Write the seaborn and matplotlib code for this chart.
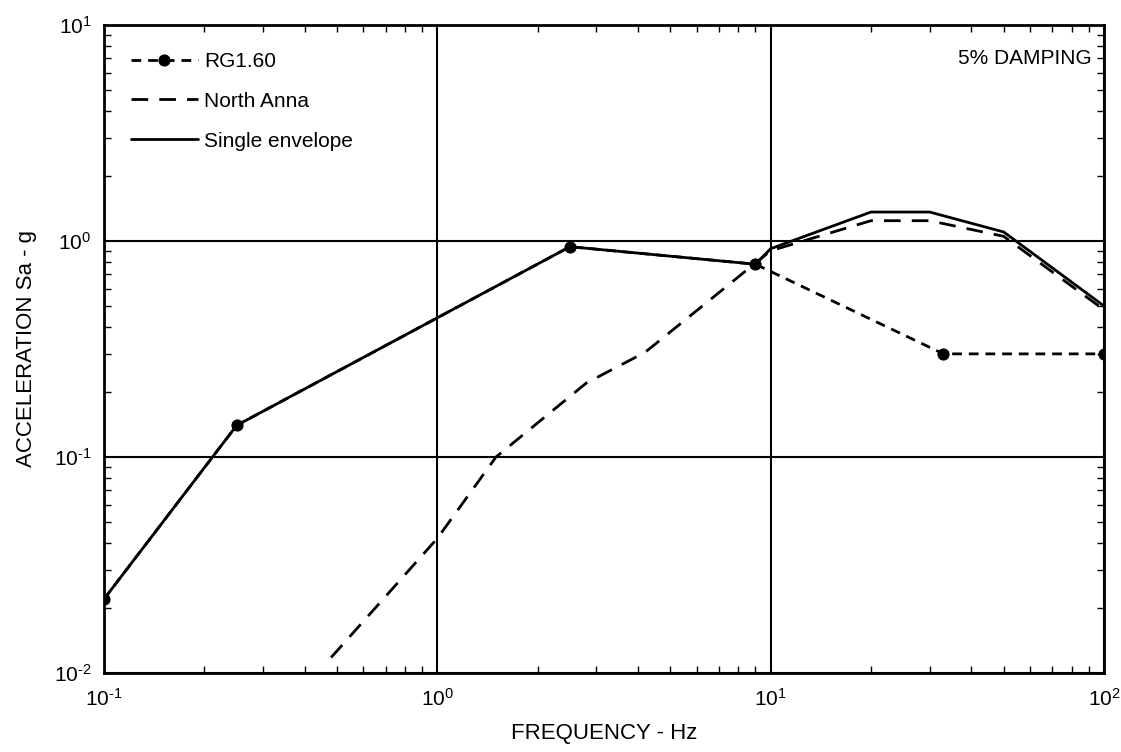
import matplotlib
matplotlib.use("Agg")
import matplotlib.pyplot as plt
import seaborn as sns
import numpy as np
from matplotlib.ticker import LogLocator, NullFormatter, FuncFormatter

# ==========================================
# 1. DATA
# ==========================================
rg_freq = [0.1, 0.25, 2.5, 9.0, 33.0, 100.0]
rg_acc = [0.022, 0.14, 0.94, 0.78, 0.30, 0.30]

na_freq = [0.48, 1.0, 1.5, 2.8, 4.2, 10.0, 20.0, 30.0, 50.0, 100.0]
na_acc = [0.0118, 0.042, 0.10, 0.22, 0.305, 0.90, 1.24, 1.24, 1.05, 0.48]

env_freq = [0.1, 0.25, 2.5, 9.0, 10.0, 20.0, 30.0, 50.0, 100.0]
env_acc = [0.022, 0.14, 0.94, 0.78, 0.92, 1.36, 1.36, 1.10, 0.50]

# ==========================================
# 2. STYLE
# ==========================================
sns.set_theme(style="ticks")
plt.rcParams['font.family'] = ['Liberation Sans', 'DejaVu Sans']
plt.rcParams['mathtext.default'] = 'regular'
plt.rcParams['mathtext.fontset'] = 'custom'
plt.rcParams['mathtext.rm'] = 'Liberation Sans'
plt.rcParams['axes.unicode_minus'] = False

fig = plt.figure(figsize=(11.21, 7.52), dpi=100)
ax = fig.add_axes([0.0928, 0.105, 0.892, 0.862])

# ==========================================
# 3. CURVES
# ==========================================
sns.lineplot(x=rg_freq, y=rg_acc, ax=ax, color='black', lw=2,
             marker='o', markersize=8, markeredgecolor='black', label='RG1.60')
ax.lines[-1].set_dashes((3.5, 2.5))

sns.lineplot(x=na_freq, y=na_acc, ax=ax, color='black', lw=2, label='North Anna')
ax.lines[-1].set_dashes((6, 4))

sns.lineplot(x=env_freq, y=env_acc, ax=ax, color='black', lw=2, label='Single envelope')

# ==========================================
# 4. AXES
# ==========================================
ax.set_xscale('log')
ax.set_yscale('log')
ax.set_xlim(0.1, 100)
ax.set_ylim(0.01, 10)


# decade labels like 10^-1 with a short hyphen, as in the scanned original
def decade_label(v, pos):
    e = int(round(np.log10(v)))
    sign = '\u2010' if e < 0 else ''
    return f"$10^{{{sign}{abs(e)}}}$"


ax.xaxis.set_major_formatter(FuncFormatter(decade_label))
ax.yaxis.set_major_formatter(FuncFormatter(decade_label))
ax.xaxis.set_minor_locator(LogLocator(base=10, subs=np.arange(2, 10)))
ax.yaxis.set_minor_locator(LogLocator(base=10, subs=np.arange(2, 10)))
ax.xaxis.set_minor_formatter(NullFormatter())
ax.yaxis.set_minor_formatter(NullFormatter())

ax.grid(True, which='major', color='black', lw=1.5)
ax.tick_params(which='both', direction='in', top=True, right=True, colors='black')
ax.tick_params(which='major', length=0, labelsize=15)
ax.tick_params(axis='x', which='major', pad=11)
ax.tick_params(axis='y', which='major', pad=9)
ax.tick_params(which='minor', length=5, width=1)
for s in ax.spines.values():
    s.set_color('black')
    s.set_linewidth(2)

ax.set_xlabel('FREQUENCY - Hz', fontsize=16, color='black', labelpad=9)
ax.set_ylabel('ACCELERATION Sa - g', fontsize=16, color='black', labelpad=12)

ax.text(0.988, 0.962, '5% DAMPING', transform=ax.transAxes, ha='right', va='top',
        fontsize=15, color='black')

leg = ax.legend(loc='upper left', frameon=False, fontsize=15, handlelength=3.2,
                handletextpad=0.3, labelspacing=1.0, borderaxespad=0.9)
for t in leg.get_texts():
    t.set_color('black')

fig.savefig('out.png', dpi=100)
